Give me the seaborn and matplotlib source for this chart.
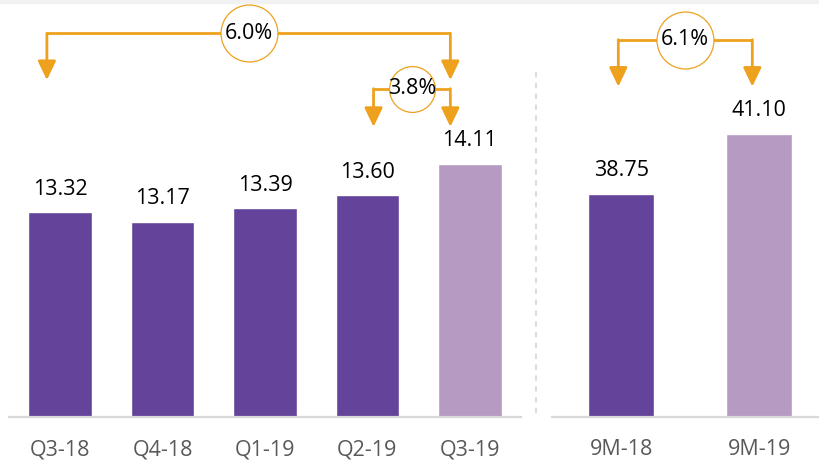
import matplotlib
matplotlib.use('Agg')
import matplotlib.pyplot as plt
import seaborn as sns
import pandas as pd
from matplotlib.lines import Line2D
from matplotlib.patches import Rectangle

# data
quarters = ['Q3-18', 'Q4-18', 'Q1-19', 'Q2-19', 'Q3-19']
quarter_vals = [13.32, 13.17, 13.39, 13.60, 14.11]
periods = ['9M-18', '9M-19']
period_vals = [38.75, 41.10]

# growth brackets: (label, from bar, to bar)
left_growth = [('6.0%', 0, 4), ('3.8%', 3, 4)]
right_growth = [('6.1%', 0, 1)]

dark = '#64439A'
light = '#B69AC1'
orange = '#EEA11D'
grid_grey = '#D9D9D9'

sns.set_theme(style='white')
plt.rcParams['font.family'] = ['Open Sans', 'DejaVu Sans']

fig = plt.figure(figsize=(8.2, 4.62), dpi=100)
W, H = 820, 462
base_px = 417

ax1 = fig.add_axes([9 / W, (H - base_px) / H, 512 / W, base_px / H])
ax2 = fig.add_axes([552 / W, (H - base_px) / H, 268 / W, base_px / H])

df1 = pd.DataFrame({'cat': quarters, 'val': quarter_vals})
df2 = pd.DataFrame({'cat': periods, 'val': period_vals})

sns.barplot(data=df1, x='cat', y='val', hue='cat', palette=[dark] * 4 + [light],
            width=0.62, legend=False, ax=ax1, saturation=1)
sns.barplot(data=df2, x='cat', y='val', hue='cat', palette=[dark, light],
            width=0.476, legend=False, ax=ax2, saturation=1)

ax1.set_xlim(-0.5, 4.5)
ax1.set_ylim(10, 10 + base_px / 61.6)
ax2.set_xlim(-0.5, 1.44)
ax2.set_ylim(30, 30 + base_px / 25.53)

for ax, vals in [(ax1, quarter_vals), (ax2, period_vals)]:
    ax.set_xlabel('')
    ax.set_ylabel('')
    ax.set_yticks([])
    for s in ['top', 'left', 'right']:
        ax.spines[s].set_visible(False)
    ax.spines['bottom'].set_color(grid_grey)
    ax.spines['bottom'].set_linewidth(1.6)
    ax.tick_params(axis='x', length=0, pad=16, labelsize=15.5, labelcolor='#595959')
    ax.patch.set_alpha(0)
    for i, v in enumerate(vals):
        ax.annotate(f'{v:.2f}', (i, v), xytext=(0, 9), textcoords='offset points',
                    ha='center', va='bottom', fontsize=15.5, color='black')


def bracket(ax, label, i0, i1, dx0, dx1, y_line, y_tip, size):
    x0, x1 = i0 + dx0, i1 + dx1
    ax.plot([x0, x1], [y_line, y_line], color=orange, lw=2, solid_capstyle='butt', zorder=3)
    for x in (x0, x1):
        ax.annotate('', xy=(x, y_tip), xytext=(x, y_line),
                    arrowprops=dict(arrowstyle='-|>,head_length=1.15,head_width=0.55',
                                    color=orange, lw=2, shrinkA=0, shrinkB=0,
                                    mutation_scale=10), zorder=3)
    xm = (x0 + x1) / 2
    ax.plot([xm], [y_line], marker='o', markersize=size, markerfacecolor='white',
            markeredgecolor=orange, markeredgewidth=0.9, zorder=4, clip_on=False)
    ax.text(xm, y_line, label, ha='center', va='center', fontsize=15.5, color='black', zorder=5)


bracket(ax1, left_growth[0][0], left_growth[0][1], left_growth[0][2], -0.13, -0.19, 16.23, 15.47, 41)
bracket(ax1, left_growth[1][0], left_growth[1][1], left_growth[1][2], 0.06, -0.19, 15.33, 14.71, 33)
bracket(ax2, right_growth[0][0], right_growth[0][1], right_growth[0][2], -0.02, -0.05, 44.78, 42.94, 41)

# separator between the two panels
fig.add_artist(Line2D([536 / W, 536 / W], [(H - 72) / H, (H - base_px) / H],
                      transform=fig.transFigure, color=grid_grey, lw=1.3,
                      linestyle=(0, (3, 3))))
# thin grey band at the very top
fig.add_artist(Rectangle((0, (H - 3) / H), 1, 3 / H, transform=fig.transFigure,
                         color='#F2F2F2', zorder=0))

fig.savefig('out.png', dpi=100)
